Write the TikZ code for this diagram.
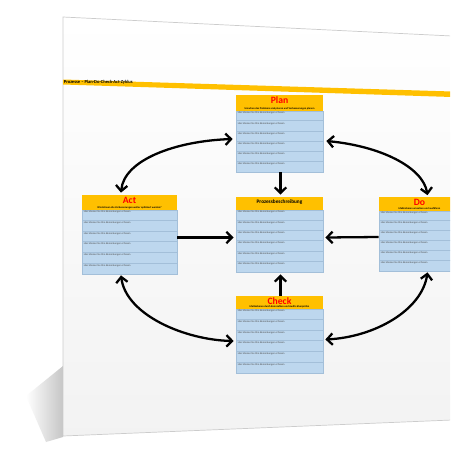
\documentclass[tikz,border=0pt]{standalone}
\usepackage{fontspec}
\setmainfont{Carlito}
\usetikzlibrary{arrows.meta,calc,fit}
\definecolor{hdryellow}{HTML}{FFC000}
\definecolor{bodyblue}{HTML}{BDD7EE}
\definecolor{rowblue}{HTML}{A3BFD9}
\definecolor{titlered}{HTML}{FF0000}
\tikzset{
  hdr/.style={fill=hdryellow},
  bdy/.style={fill=bodyblue, draw=rowblue, line width=0.2pt},
  rowline/.style={draw=rowblue, line width=0.25pt},
  boxtitle/.style={font=\bfseries\fontsize{5.5}{6}\selectfont, inner sep=0pt},
  boxsub/.style={font=\bfseries\fontsize{1.5}{1.8}\selectfont, inner sep=0pt},
  rowtxt/.style={font=\fontsize{1.5}{1.8}\selectfont, text=black!70, inner sep=0pt, anchor=north west},
  arr/.style={line width=1.3pt, -{Straight Barb[length=3.2pt,width=6.5pt,line width=1.3pt]}},
  dblarr/.style={line width=1.3pt, {Straight Barb[length=3.2pt,width=6.5pt,line width=1.3pt]}-{Straight Barb[length=3.2pt,width=6.5pt,line width=1.3pt]}},
}
% name, x1, y1, yh, x2, y2, title, titlecolor, subtitle
\newcommand\pdcabox[9]{%
  \fill[hdr] (#2,#3) rectangle (#5,#4);
  \filldraw[bdy] (#2,#4) rectangle (#5,#6);
  \foreach \i in {1,...,6}{%
    \pgfmathsetmacro\yy{#4+(#6-#4)*(\i-1)/6+0.8}
    \pgfmathsetmacro\yl{#4+(#6-#4)*\i/6-0.5}
    \node[rowtxt] (#1-r\i) at (#2+1.5,\yy) {Hier können Sie Ihre Bemerkungen erfassen};
    \ifnum\i<6 \draw[rowline] (#2,\yl) -- (#5,\yl);\fi
  }
  \coordinate (#1-nw) at (#2,#3);
  \coordinate (#1-se) at (#5,#6);
  \node[fit=(#1-nw)(#1-se), inner sep=0pt] (#1) {};
  \node[boxtitle, text=#8] (#1-t) at ({(#2+#5)/2},{#3+5.5}) {#7};
  \node[boxsub] (#1-s) at ({(#2+#5)/2},{#4-2.2}) {#9};
}
\begin{document}
\begin{tikzpicture}[x=0.02cm, y=-0.02cm]
\clip (0,0) rectangle (450,450);
\fill[white] (0,0) rectangle (450,450);
% shadow
\shade[left color=white, right color=gray!45] (26,396) -- (63,366) -- (63,437) -- (46,442) -- cycle;
% page
\shade[top color=white, bottom color=gray!10, draw=gray!40, line width=0.4pt]
  (63,17) -- (452,36) -- (452,420) -- (63,436) -- cycle;
% title band
\fill[hdryellow] (63,79.5) -- (452,91.5) -- (452,97) -- (63,84.5) -- cycle;
\node[font=\bfseries\fontsize{2.6}{3}\selectfont, anchor=west, inner sep=0pt] (bandtxt) at (63.5,81.8) {Prozesse – Plan-Do-Check-Act-Zyklus};
% boxes
\pdcabox{plan}{236}{95}{111}{323}{172}{Plan}{titlered}{Ursachen des Problems analysieren und Verbesserungen planen}
\pdcabox{act}{82}{195}{210}{177}{274}{Act}{titlered}{Wie können die Verbesserungen weiter optimiert werden?}
\pdcabox{proc}{236}{197}{210}{323}{272}{}{black}{}
\node[font=\bfseries\fontsize{3}{3.5}\selectfont, inner sep=0pt] (proc-title) at (279.5,202.5) {Prozessbeschreibung};
\pdcabox{do}{379}{197}{211}{460}{271}{Do}{titlered}{Maßnahmen umsetzen und ausführen}
\pdcabox{check}{236}{296}{309}{323}{373}{Check}{titlered}{Maßnahmen durch Kennzahlen und Audits überprüfen}
% straight arrows
\draw[arr] ($(plan.south)+(1,0)$) -- ($(proc.north)+(1,-2)$);
\draw[arr] ($(act.east)+(0,3)$) -- ($(proc.west)+(-2,3)$);
\draw[arr] ($(do.west)+(0,3)$) -- ($(proc.east)+(2,3)$);
\draw[arr] ($(check.north)+(1,0)$) -- ($(proc.south)+(1,2)$);
% curved double arrows
\draw[dblarr] ($(plan.west)+(-3,5.5)$) .. controls (175,141) and (124,160) .. ($(act.north)+(-8.5,-2)$);
\draw[dblarr] ($(plan.east)+(3,7.5)$) .. controls (380,146) and (423,167) .. ($(do.north)+(8,-1.5)$);
\draw[dblarr] ($(act.south)+(-8.5,1)$) .. controls (126,315) and (185,340) .. ($(check.west)+(-2,6.5)$);
\draw[dblarr] ($(do.south)+(8,1)$) .. controls (422,310) and (375,337) .. ($(check.east)+(2,5)$);
\end{tikzpicture}
\end{document}
